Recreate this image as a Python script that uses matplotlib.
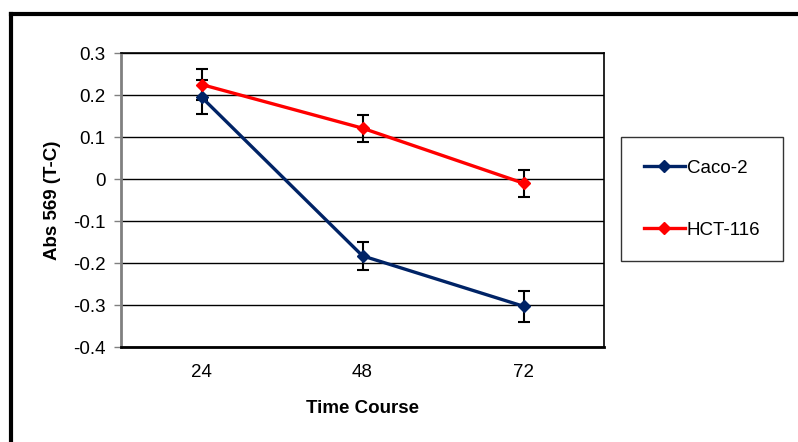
import numpy as np
import matplotlib
matplotlib.use('Agg')
import matplotlib.pyplot as plt
from matplotlib.lines import Line2D

plt.rcParams['font.family'] = ['Liberation Sans', 'DejaVu Sans']

# data
times = ['24', '48', '72']
caco2 = [0.195, -0.183, -0.303]
caco2_err = [0.040, 0.034, 0.037]
hct116 = [0.225, 0.121, -0.010]
hct116_err = [0.036, 0.032, 0.032]
yticks = [0.3, 0.2, 0.1, 0, -0.1, -0.2, -0.3, -0.4]
ytick_labels = ['0.3', '0.2', '0.1', '0', '-0.1', '-0.2', '-0.3', '-0.4']

W, H = 798, 442
fig = plt.figure(figsize=(W / 100, H / 100), dpi=100)
ax = fig.add_axes([121 / W, 1 - 347 / H, (604 - 121) / W, (347 - 53) / H])

x = np.arange(len(times))

ax.errorbar(x, caco2, yerr=caco2_err, fmt='none', ecolor='black',
            elinewidth=1.5, capsize=4, capthick=1.5, zorder=3)
ax.errorbar(x, hct116, yerr=hct116_err, fmt='none', ecolor='black',
            elinewidth=1.5, capsize=4, capthick=1.5, zorder=3)
ax.plot(x, caco2, color='#002366', lw=2.4, marker='D', ms=6, label='Caco-2', zorder=4)
ax.plot(x, hct116, color='#FF0000', lw=2.4, marker='D', ms=6, label='HCT-116', zorder=4)

ax.set_xlim(-0.5, 2.5)
ax.set_ylim(-0.4, 0.3)
ax.set_xticks(x)
ax.set_xticklabels(times)
ax.set_yticks(yticks)
ax.set_yticklabels(ytick_labels)
ax.tick_params(axis='x', length=0, labelsize=13.5, pad=12)
ax.tick_params(axis='y', length=5, width=1, color='#808080', labelsize=13.5, pad=6)

ax.grid(axis='y', color='black', lw=1)
ax.set_axisbelow(True)
for s in ['top', 'right']:
    ax.spines[s].set_color('black')
    ax.spines[s].set_linewidth(1.2)
ax.spines['left'].set_color('#808080')
ax.spines['left'].set_linewidth(2)
ax.spines['bottom'].set_color('black')
ax.spines['bottom'].set_linewidth(2)

ax.set_xlabel('Time Course', fontsize=13.5, fontweight='bold', labelpad=14)
ax.set_ylabel('Abs 569 (T-C)', fontsize=13.5, fontweight='bold', labelpad=9)

leg = fig.legend(loc='upper left', bbox_to_anchor=(621 / W, 1 - 137 / H),
                 bbox_transform=fig.transFigure, fontsize=13.5, frameon=True,
                 fancybox=False, edgecolor='black', labelspacing=2.4,
                 handlelength=2.2, handletextpad=0.1, borderpad=1.2,
                 borderaxespad=0)
leg.get_frame().set_linewidth(1)

# outer chart border (only top and left are visible)
fig.add_artist(Line2D([11 / W, 11 / W], [0, 1 - 14 / H], color='black', lw=3,
                      transform=fig.transFigure))
fig.add_artist(Line2D([11 / W, 1], [1 - 14 / H, 1 - 14 / H], color='black', lw=3,
                      transform=fig.transFigure))

fig.savefig('out.png', dpi=100)
